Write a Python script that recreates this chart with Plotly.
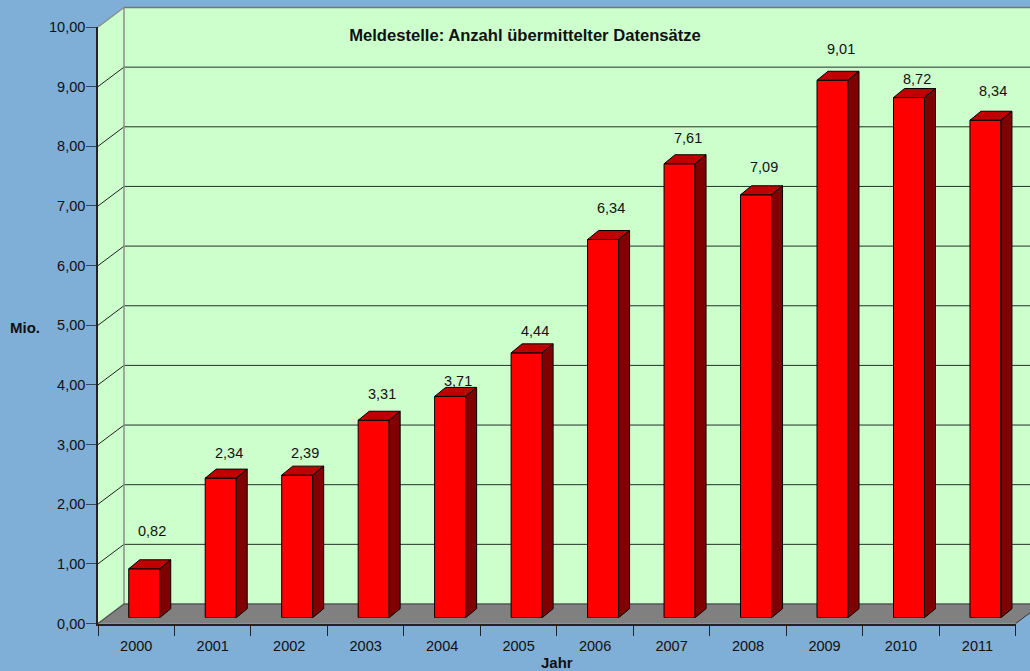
import plotly.graph_objects as go

# ---- data ----
years = ["2000", "2001", "2002", "2003", "2004", "2005", "2006", "2007", "2008", "2009", "2010", "2011"]
values = [0.82, 2.34, 2.39, 3.31, 3.71, 4.44, 6.34, 7.61, 7.09, 9.01, 8.72, 8.34]
value_labels = ["0,82", "2,34", "2,39", "3,31", "3,71", "4,44", "6,34", "7,61", "7,09", "9,01", "8,72", "8,34"]
y_ticks = [0, 1, 2, 3, 4, 5, 6, 7, 8, 9, 10]
title_text = "Meldestelle: Anzahl übermittelter Datensätze"

# pixel lift of each value label above its bar top
label_lift = [38, 25.5, 22.5, 26.5, 15, 21.5, 32, 26, 28, 31, 19, 29]

# ---- geometry ----
W, H = 1030, 671
LEFT, RIGHT = 98.0, 1015.7
BASE, TOP = 623.5, 27.0
CAT_PX = (RIGHT - LEFT) / 12
VAL_PX = (BASE - TOP) / 10
WALL_DX, WALL_DY = 26 / CAT_PX, 19.5 / VAL_PX      # depth of the room
BAR_SHIFT_X, BAR_SHIFT_Y = 8.0, 5.8                # bars stand this far into the room
BAR_W = 31 / CAT_PX
BAR_DX, BAR_DY = 11 / CAT_PX, 9 / VAL_PX           # depth of one bar

BG = "#7FAED6"
WALL = "#CCFFCC"
FLOOR = "#808080"
EDGE = "#8A8F8A"
RED, RED_TOP, RED_SIDE = "#FF0000", "#C00000", "#800000"
FONT = "Liberation Sans, Arial, sans-serif"
TXT = "#111111"

x_full = [-0.5 - LEFT / CAT_PX, -0.5 + (W - LEFT) / CAT_PX]
y_full = [-(H - BASE) / VAL_PX, BASE / VAL_PX]
x0, x1 = -0.5, 11.5
xw = x_full[1] + 1

fig = go.Figure()


def poly(xs, ys, fill, line, width, axes=("x", "y")):
    fig.add_trace(go.Scatter(
        x=xs, y=ys, mode="lines", fill="toself", fillcolor=fill,
        line=dict(color=line, width=width), hoverinfo="skip", showlegend=False,
        xaxis=axes[0], yaxis=axes[1]))


def lines(xs, ys, color, width):
    fig.add_trace(go.Scatter(
        x=xs, y=ys, mode="lines", line=dict(color=color, width=width),
        hoverinfo="skip", showlegend=False, xaxis="x", yaxis="y"))


# walls and floor (full-figure axes)
poly([x0 + WALL_DX, xw, xw, x0 + WALL_DX, x0 + WALL_DX], [WALL_DY, WALL_DY, 10 + WALL_DY, 10 + WALL_DY, WALL_DY], WALL, WALL, 0)
poly([x0, x0 + WALL_DX, x0 + WALL_DX, x0, x0], [0, WALL_DY, 10 + WALL_DY, 10, 0], WALL, WALL, 0)
poly([x0, x1, xw + WALL_DX, xw, x0 + WALL_DX, x0], [0, 0, WALL_DY * (xw + WALL_DX - x1) / WALL_DX, WALL_DY, WALL_DY, 0], FLOOR, FLOOR, 0)

# grid lines: back wall and slanted side wall
gx, gy, sx, sy = [], [], [], []
for v in y_ticks[1:-1]:
    gx += [x0 + WALL_DX, xw, None]
    gy += [v + WALL_DY, v + WALL_DY, None]
    sx += [x0, x0 + WALL_DX, None]
    sy += [v, v + WALL_DY, None]
lines(gx, gy, "#26302A", 1)
lines(sx, sy, "#202020", 1)
# wall edges
lines([x0, x0 + WALL_DX, x0 + WALL_DX], [10, 10 + WALL_DY, WALL_DY], EDGE, 1.5)
lines([x0 + WALL_DX, xw], [10 + WALL_DY, 10 + WALL_DY], "#6F7A72", 1.5)
lines([x0, x0 + WALL_DX, xw], [0, WALL_DY, WALL_DY], "#555555", 1.5)
lines([x1, x1 + (x_full[1] - x1)], [0, WALL_DY * (x_full[1] - x1) / WALL_DX], "#333333", 1)

# holder of the visible front-plane axes
fig.add_trace(go.Scatter(x=years, y=values, mode="markers", marker=dict(opacity=0),
                         hoverinfo="skip", showlegend=False, xaxis="x2", yaxis="y2"))

# bars, on axes shifted into the room
idx = list(range(len(years)))
for i, v in zip(idx, values):
    a, b = i - BAR_W / 2, i + BAR_W / 2
    poly([a, b, b + BAR_DX, a + BAR_DX, a], [v, v, v + BAR_DY, v + BAR_DY, v], RED_TOP, "#000000", 1, ("x3", "y3"))
    poly([b, b + BAR_DX, b + BAR_DX, b, b], [0, BAR_DY, v + BAR_DY, v, 0], RED_SIDE, "#000000", 1, ("x3", "y3"))
fig.add_trace(go.Bar(x=idx, y=values, width=BAR_W, marker=dict(color=RED, line=dict(color="#000000", width=1)),
                     hoverinfo="skip", showlegend=False, xaxis="x3", yaxis="y3"))

annotations = [
    dict(x=i, y=v, xref="x3", yref="y3", text=t, showarrow=False, xshift=8, yshift=lift,
         xanchor="center", yanchor="middle", font=dict(family=FONT, size=14.5, color=TXT))
    for i, v, t, lift in zip(idx, values, value_labels, label_lift)
]
annotations.append(dict(x=25 / W, y=1 - 327 / H, xref="paper", yref="paper", text="<b>Mio.</b>", showarrow=False,
                        xanchor="center", yanchor="middle", font=dict(family=FONT, size=15, color=TXT)))

fig.update_layout(
    width=W, height=H, margin=dict(l=0, r=0, t=0, b=0, pad=0),
    autosize=False,
    paper_bgcolor=BG, plot_bgcolor="rgba(0,0,0,0)",
    separators=",.", showlegend=False, barmode="overlay",
    font=dict(family=FONT, size=14.5, color=TXT),
    title=dict(text="<b>" + title_text + "</b>", x=525 / W, y=1 - 35 / H, xanchor="center", yanchor="middle",
               font=dict(family=FONT, size=16.6, color=TXT)),
    annotations=annotations,
    xaxis=dict(domain=[0, 1], range=x_full, visible=False, fixedrange=True, automargin=False),
    yaxis=dict(domain=[0, 1], range=y_full, visible=False, fixedrange=True, automargin=False),
    xaxis2=dict(domain=[LEFT / W, RIGHT / W], anchor="y2", type="category", categoryorder="array", categoryarray=years,
                range=[x0, x1], tickson="boundaries", ticks="outside", ticklen=10, tickwidth=1, tickcolor="#222222",
                ticklabelstandoff=8,
                showline=True, linecolor="#222222", linewidth=2, showgrid=False, zeroline=False, automargin=False,
                tickfont=dict(family=FONT, size=14.5, color=TXT),
                title=dict(text="<b>Jahr</b>", standoff=5, font=dict(family=FONT, size=15, color=TXT))),
    yaxis2=dict(domain=[(H - BASE) / H, (H - TOP) / H], anchor="x2", range=[0, 10], tickvals=y_ticks, tickformat=".2f",
                ticks="outside", ticklen=10, tickwidth=1, tickcolor="#33475A", automargin=False,
                ticklabelstandoff=-2,
                showline=True, linecolor="#222222", linewidth=1.5, showgrid=False, zeroline=False,
                tickfont=dict(family=FONT, size=14.5, color=TXT)),
    xaxis3=dict(domain=[(LEFT + BAR_SHIFT_X) / W, (RIGHT + BAR_SHIFT_X) / W], anchor="y3", range=[x0, x1], visible=False, fixedrange=True, automargin=False),
    yaxis3=dict(domain=[(H - BASE + BAR_SHIFT_Y) / H, (H - TOP + BAR_SHIFT_Y) / H], anchor="x3", range=[0, 10], visible=False, fixedrange=True, automargin=False),
)

fig.write_html("out.html", config=dict(displayModeBar=False),
               post_script="document.body.style.margin='0';")
